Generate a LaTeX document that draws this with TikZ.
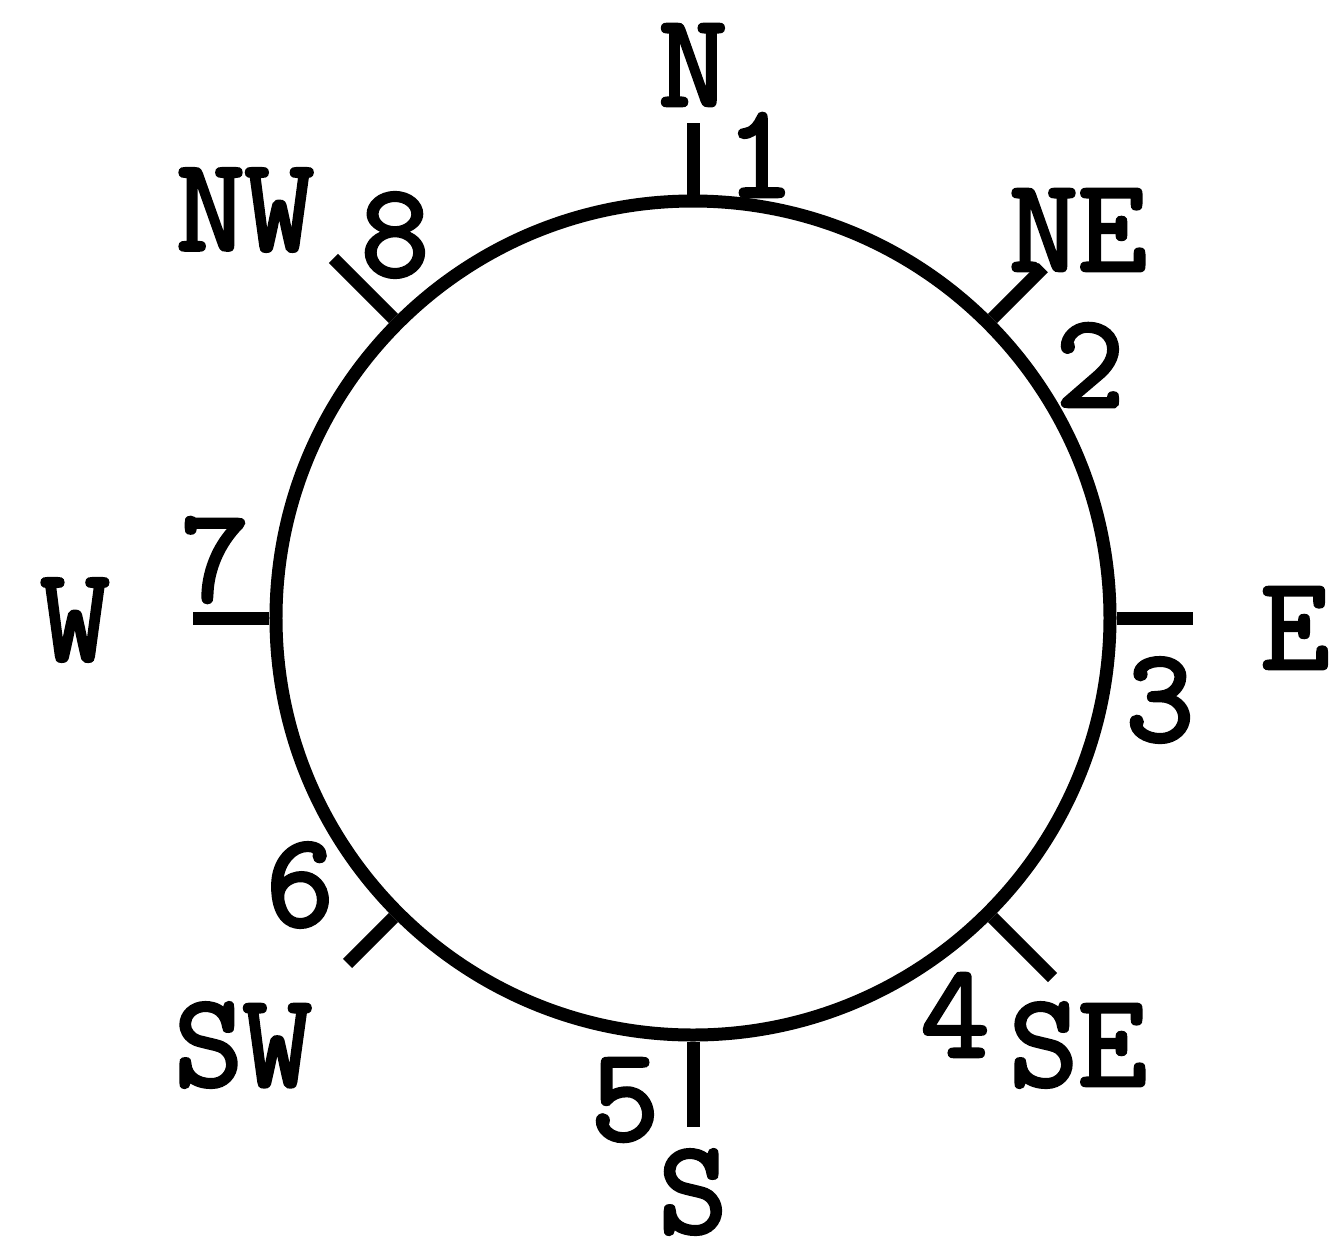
\documentclass[tikz,border=0pt]{standalone}
\usepackage{fontspec}
\newfontfamily\compfont{Latin Modern Mono}[FakeBold=2.5]
\usepackage{tikz}
\usetikzlibrary{positioning, calc}

\begin{document}
\begin{tikzpicture}[
  ring/.style={draw, circle, line width=0.13cm, minimum size=8.34cm, inner sep=0pt},
  tick/.style={line width=0.13cm},
  dir/.style={font=\fontsize{38}{40}\selectfont\compfont, inner sep=0pt},
  num/.style={font=\fontsize{38}{40}\selectfont\compfont, inner sep=0pt}]
  \useasboundingbox (-6.93,-6.37) rectangle (6.41,6.18);
  \node[ring] (ring) at (0,0) {};
  % ticks at the eight points
  \draw[tick] (ring.north) -- ++(90:0.72);
  \draw[tick] (ring.north east) -- ++(45:0.72);
  \draw[tick] (ring.east) -- ++(0:0.76);
  \draw[tick] (ring.south east) -- ++(-45:0.85);
  \draw[tick] (ring.south) -- ++(-90:0.85);
  \draw[tick] (ring.south west) -- ++(-135:0.65);
  \draw[tick] (ring.west) -- ++(180:0.76);
  \draw[tick] (ring.north west) -- ++(135:0.85);
  % compass labels
  \node[dir] (n) at (0,5.53) {N};
  \node[dir] (ne) at (3.85,3.88) {NE};
  \node[dir] (e) at (6.02,-0.10) {E};
  \node[dir] (se) at (3.85,-4.27) {SE};
  \node[dir] (s) at (0,-5.74) {S};
  \node[dir] (sw) at (-4.50,-4.27) {SW};
  \node[dir] (w) at (-6.18,-0.02) {W};
  \node[dir] (nw) at (-4.48,4.08) {NW};
  % numbers
  \node[num] (n1) at (0.67,4.63) {1};
  \node[num] (n2) at (3.97,2.53) {2};
  \node[num] (n3) at (4.67,-0.82) {3};
  \node[num] (n4) at (2.62,-3.97) {4};
  \node[num] (n5) at (-0.68,-4.82) {5};
  \node[num] (n6) at (-3.93,-2.67) {6};
  \node[num] (n7) at (-4.78,0.58) {7};
  \node[num] (n8) at (-2.98,3.83) {8};
\end{tikzpicture}
\end{document}
